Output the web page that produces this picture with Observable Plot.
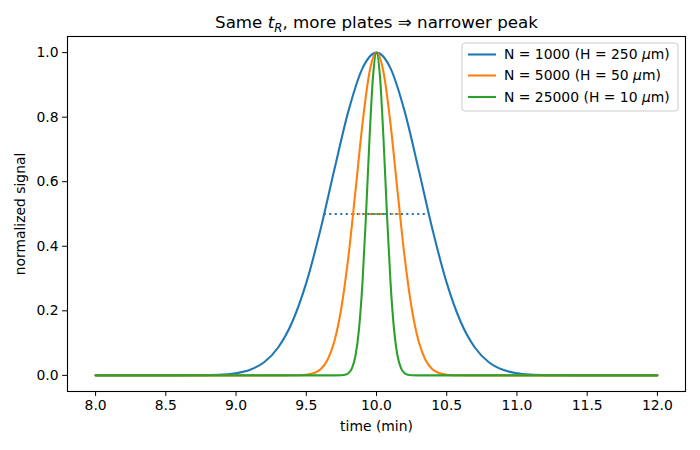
<!DOCTYPE html>
<html>
<head>
<meta charset="utf-8">
<script src="https://cdn.jsdelivr.net/npm/d3@7"></script>
<script src="https://cdn.jsdelivr.net/npm/@observablehq/plot@0.6"></script>
<style>
  html, body { margin: 0; padding: 0; background: #fff; }
  #chart { width: 700px; height: 450px; }
  svg { font-family: "DejaVu Sans", sans-serif; }
</style>
</head>
<body>
<div id="chart"></div>
<script>
// ---- data ----
const seriesNames = ["N = 1000 (H = 250 μm)", "N = 5000 (H = 50 μm)", "N = 25000 (H = 10 μm)"];
const seriesColors = ["#1f77b4", "#ff7f0e", "#2ca02c"];

const blueX = [8.0, 8.5, 8.7, 8.8, 8.9, 9.0, 9.1, 9.2, 9.3, 9.4, 9.5, 9.6, 9.7, 9.8, 9.9, 10.0,
               10.1, 10.2, 10.3, 10.4, 10.5, 10.6, 10.7, 10.8, 10.9, 11.0, 11.1, 11.2, 11.3, 11.5, 12.0];
const blueY = [0, 0.00001, 0.0002, 0.0008, 0.0024, 0.0067, 0.0174, 0.0408, 0.0863, 0.1653, 0.2865, 0.4493, 0.6376, 0.8187, 0.9512, 1,
               0.9512, 0.8187, 0.6376, 0.4493, 0.2865, 0.1653, 0.0863, 0.0408, 0.0174, 0.0067, 0.0024, 0.0008, 0.0002, 0.00001, 0];

const orangeX = [8.0, 9.3, 9.4, 9.5, 9.55, 9.6, 9.65, 9.7, 9.75, 9.8, 9.85, 9.9, 9.95, 10.0,
                 10.05, 10.1, 10.15, 10.2, 10.25, 10.3, 10.35, 10.4, 10.45, 10.5, 10.6, 10.7, 12.0];
const orangeY = [0, 0, 0.0001, 0.0019, 0.0063, 0.0183, 0.0468, 0.1054, 0.2096, 0.3679, 0.5698, 0.7788, 0.9394, 1,
                 0.9394, 0.7788, 0.5698, 0.3679, 0.2096, 0.1054, 0.0468, 0.0183, 0.0063, 0.0019, 0.0001, 0, 0];

const greenX = [8.0, 9.65, 9.7, 9.75, 9.775, 9.8, 9.825, 9.85, 9.875, 9.9, 9.925, 9.95, 9.975, 10.0,
                10.025, 10.05, 10.075, 10.1, 10.125, 10.15, 10.175, 10.2, 10.225, 10.25, 10.3, 10.35, 12.0];
const greenY = [0, 0, 0.00001, 0.0004, 0.0018, 0.0067, 0.0217, 0.0601, 0.1419, 0.2865, 0.4950, 0.7316, 0.9248, 1,
                0.9248, 0.7316, 0.4950, 0.2865, 0.1419, 0.0601, 0.0217, 0.0067, 0.0018, 0.0004, 0.00001, 0, 0];

// half-maximum widths (start, end) at y = 0.5
const halfStart = [9.628, 9.8335, 9.9255];
const halfEnd = [10.372, 10.1665, 10.0745];
const halfY = 0.5;

const xTicks = [8.0, 8.5, 9.0, 9.5, 10.0, 10.5, 11.0, 11.5, 12.0];
const yTicks = [0.0, 0.2, 0.4, 0.6, 0.8, 1.0];

const titleText = "Same tR, more plates ⇒ narrower peak";
const xLabel = "time (min)";
const yLabel = "normalized signal";

// ---- build tables ----
const xs = [blueX, orangeX, greenX];
const ys = [blueY, orangeY, greenY];
const curves = xs.map((arr, i) => arr.map((x, j) => ({x, y: ys[i][j], s: seriesNames[i]})));
const halfLines = seriesNames.map((s, i) => ({x1: halfStart[i], x2: halfEnd[i], y: halfY, s}));

const LW = 2.08;
const marks = [];
curves.forEach((c, i) => {
  marks.push(Plot.line(c, {x: "x", y: "y", stroke: seriesColors[i], strokeWidth: LW, curve: "monotone-x"}));
  marks.push(Plot.ruleY([halfLines[i]], {x1: "x1", x2: "x2", y: "y", stroke: seriesColors[i], strokeWidth: LW, strokeDasharray: "2.1,3.4"}));
});

const fs = 13.9;
marks.push(Plot.frame({stroke: "#000", strokeWidth: 1.1}));
marks.push(Plot.axisX({ticks: xTicks, tickFormat: d3.format(".1f"), tickSize: 4.9, tickPadding: 4, fontSize: fs, label: null, stroke: "#000"}));
marks.push(Plot.axisY({ticks: yTicks, tickFormat: d3.format(".1f"), tickSize: 4.9, tickPadding: 4, fontSize: fs, label: null, stroke: "#000"}));
marks.push(Plot.text([xLabel], {frameAnchor: "bottom", lineAnchor: "middle", textAnchor: "middle", dy: 35, fontSize: fs, fill: "#000"}));
marks.push(Plot.text([yLabel], {frameAnchor: "left", lineAnchor: "middle", textAnchor: "middle", dx: -47, rotate: -90, fontSize: fs, fill: "#000"}));
marks.push(Plot.text([titleText], {frameAnchor: "top", lineAnchor: "middle", textAnchor: "middle", dy: -14, fontSize: 16.7, fill: "#000", className: "title-text"}));

const chart = Plot.plot({
  width: 700,
  height: 450,
  marginLeft: 67,
  marginRight: 15,
  marginTop: 36,
  marginBottom: 59,
  x: {domain: [7.8, 12.2]},
  y: {domain: [-0.05, 1.05]},
  style: {fontFamily: "DejaVu Sans, sans-serif", color: "#000", background: "#fff", overflow: "visible"},
  marks
});
document.getElementById("chart").appendChild(chart);

// title with italic t and subscript R
const svg = d3.select(chart);
svg.selectAll("g.title-text text").each(function() {
  const t = d3.select(this);
  t.text(null);
  t.append("tspan").text("Same ");
  t.append("tspan").attr("font-style", "italic").text("t");
  t.append("tspan").attr("font-style", "italic").attr("font-size", 11.7).attr("dy", 4).text("R");
  t.append("tspan").attr("dy", -4).text(", more plates ⇒ narrower peak");
});

// legend
const lg = svg.append("g").attr("transform", "translate(462,43)").attr("text-anchor", "start");
lg.append("rect").attr("width", 216).attr("height", 68).attr("rx", 3)
  .attr("fill", "#fff").attr("fill-opacity", 0.8).attr("stroke", "#ccc").attr("stroke-width", 1);
const rowY = [11.5, 32.5, 54];
seriesNames.forEach((name, i) => {
  const g = lg.append("g").attr("transform", `translate(0,${rowY[i]})`);
  g.append("line").attr("x1", 6).attr("x2", 34).attr("y1", 0).attr("y2", 0)
    .attr("stroke", seriesColors[i]).attr("stroke-width", LW);
  const parts = name.split("μ");
  const t = g.append("text").attr("x", 42).attr("dy", "0.35em").attr("text-anchor", "start")
    .attr("font-size", fs).attr("fill", "#000");
  t.append("tspan").text(parts[0]);
  t.append("tspan").attr("font-style", "italic").text("μ");
  t.append("tspan").text(parts[1]);
});
</script>
</body>
</html>
